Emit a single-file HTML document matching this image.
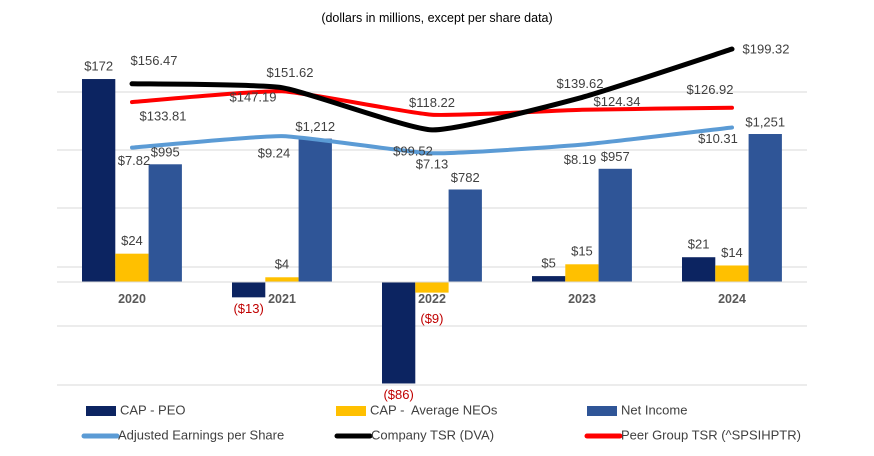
<!DOCTYPE html>
<html><head><meta charset="utf-8"><style>
body{margin:0;background:#fff;}
svg{display:block;font-family:"Liberation Sans",sans-serif;}
text{white-space:pre;}
</style></head><body>
<svg id="c" width="874" height="456" viewBox="0 0 874 456">
<text x="437" y="22" text-anchor="middle" font-size="12.5" fill="#000">(dollars in millions, except per share data)</text>
<g id="grid"></g>
<g id="bars"></g>
<g id="lines"></g>
<g id="labels"></g>
<g id="xaxis"></g>
<g id="legend"></g>
</svg>
<script>
const years=["2020","2021","2022","2023","2024"];
const capPeo=[172,-13,-86,5,21];
const capNeo=[24,4,-9,15,14];
const netIncome=[995,1212,782,957,1251];
const eps=[7.82,9.24,7.13,8.19,10.31];
const tsr=[156.47,151.62,99.52,139.62,199.32];
const peer=[133.81,147.19,118.22,124.34,126.92];

const NS="http://www.w3.org/2000/svg";
function mk(tag,attrs,parent){const e=document.createElementNS(NS,tag);for(const k in attrs)e.setAttribute(k,attrs[k]);parent.appendChild(e);return e;}
const X0=57,CW=150,ZERO=282;
const cx=i=>X0+CW*(i+0.5);
const yCap=v=>ZERO-v*1.18;
const yNI=v=>ZERO-v*0.1183;
const yTsr=v=>210.5-v*0.81;
const yEps=v=>211-v*8.1;
const fmt=(v,d)=>{const s="$"+Math.abs(v).toLocaleString("en-US",{minimumFractionDigits:d,maximumFractionDigits:d});return v<0?"("+s+")":s;};

const grid=document.getElementById('grid');
[92,150,208,267,326,385].forEach(y=>{const l=mk('line',{x1:X0,x2:807,y1:y,y2:y,stroke:'#d9d9d9','stroke-width':1},grid);

});

const bars=document.getElementById('bars'),labels=document.getElementById('labels');
function lab(x,y,t,col,anchor){const e=mk('text',{x:x,y:y,'text-anchor':anchor||'middle','dominant-baseline':'middle','font-size':13,fill:col||'#404040'},labels);e.textContent=t;

return e;}
const BW=33.3;
years.forEach((yr,i)=>{
  const left=cx(i)-50;
  let v=capPeo[i],y=yCap(v);
  let r=mk('rect',{x:left,y:Math.min(y,ZERO),width:BW,height:Math.abs(ZERO-y),fill:'#0c2461'},bars);
  
  
  lab(left+BW/2,v>=0?y-12:y+12,fmt(v,0),v<0?'#c00000':'#404040');
  v=capNeo[i];y=yCap(v);
  r=mk('rect',{x:left+BW,y:Math.min(y,ZERO),width:BW,height:Math.abs(ZERO-y),fill:'#ffc000'},bars);
  
  
  lab(left+BW*1.5,v>=0?y-12:y+27,fmt(v,0),v<0?'#c00000':'#404040');
  v=netIncome[i];y=yNI(v);
  r=mk('rect',{x:left+BW*2,y:y,width:BW,height:ZERO-y,fill:'#2f5597'},bars);
  
  
  lab(left+BW*2.5,y-11,fmt(v,0));
});

function smooth(pts){let d="M"+pts[0][0]+","+pts[0][1];
  for(let i=0;i<pts.length-1;i++){const p0=pts[i-1]||pts[i],p1=pts[i],p2=pts[i+1],p3=pts[i+2]||p2;
    const t=0.08;
    d+=" C"+(p1[0]+(p2[0]-p0[0])*t)+","+(p1[1]+(p2[1]-p0[1])*t)+" "+(p2[0]-(p3[0]-p1[0])*t)+","+(p2[1]-(p3[1]-p1[1])*t)+" "+p2[0]+","+p2[1];}
  return d;}
const lines=document.getElementById('lines');
const series=[
 {vals:eps,fy:yEps,col:'#5b9bd5',w:4,name:'line-adjusted-eps',d:2,off:[[2,14],[-8,18],[0,12],[-2,16],[-14,12]]},
 {vals:peer,fy:yTsr,col:'#ff0000',w:4,name:'line-peer-group-tsr',d:2,off:[[31,15],[-29,7],[0,-11],[35,-7],[-22,-17]]},
 {vals:tsr,fy:yTsr,col:'#000000',w:5,name:'line-company-tsr',d:2,off:[[22,-22],[8,-14],[-19,22],[-2,-13],[34,1]]}
];
series.forEach(s=>{
  const pts=s.vals.map((v,i)=>[cx(i),s.fy(v)]);
  const p=mk('path',{d:smooth(pts),fill:'none',stroke:s.col,'stroke-width':s.w,'stroke-linecap':'round'},lines);
  
  
  s.vals.forEach((v,i)=>{lab(pts[i][0]+s.off[i][0],pts[i][1]+s.off[i][1],fmt(v,s.d));});
});

const xa=document.getElementById('xaxis');
let ax=mk('line',{x1:X0,x2:807,y1:ZERO,y2:ZERO,stroke:'#d9d9d9','stroke-width':1},xa);


years.forEach((yr,i)=>{const t=mk('text',{x:cx(i),y:303,'text-anchor':'middle','font-size':12.5,'font-weight':'bold',fill:'#595959'},xa);t.textContent=yr;

});

const lg=document.getElementById('legend');
const items=[
 ['CAP - PEO','rect','#0c2461',86,411],
 ['CAP -  Average NEOs','rect','#ffc000',336,411],
 ['Net Income','rect','#2f5597',587,411],
 ['Adjusted Earnings per Share','line','#5b9bd5',84,436],
 ['Company TSR (DVA)','line','#000000',337,436],
 ['Peer Group TSR (^SPSIHPTR)','line','#ff0000',587,436]
];
items.forEach(it=>{
  const g=mk('g',{},lg);
  
  
  if(it[1]=='rect')mk('rect',{x:it[3],y:it[4]-5,width:30,height:10,fill:it[2]},g);
  else mk('line',{x1:it[3],x2:it[3]+33,y1:it[4],y2:it[4],stroke:it[2],'stroke-width':5,'stroke-linecap':'round'},g);
  const t=mk('text',{x:it[3]+34,y:it[4],'dominant-baseline':'middle','font-size':13,fill:'#404040'},g);
  t.textContent=it[0];
});
</script>
</body></html>
